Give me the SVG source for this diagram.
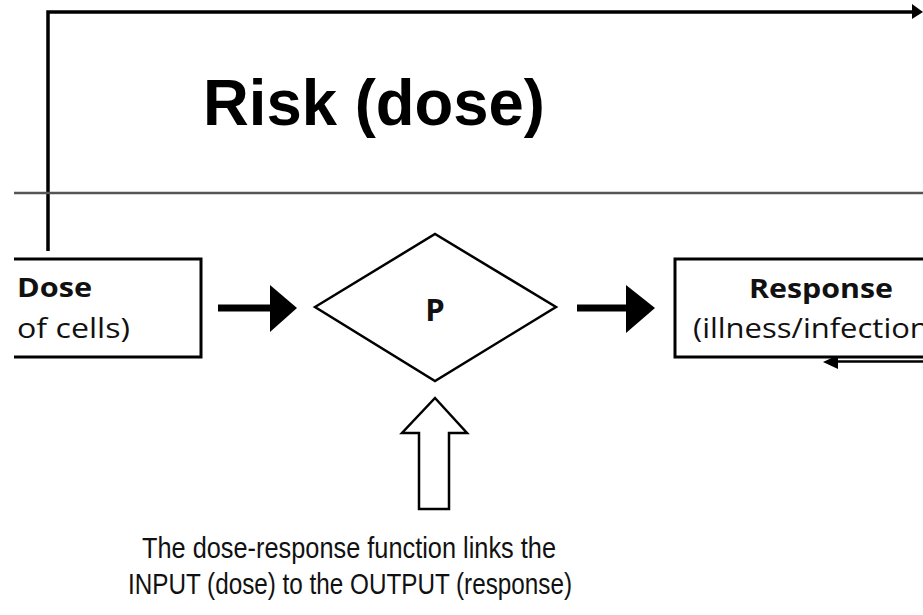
<svg xmlns="http://www.w3.org/2000/svg" width="923" height="615" viewBox="0 0 923 615">
<defs>
<style>
.ln{fill:none;stroke:#000;}
.box{fill:#fff;stroke:#000;stroke-width:3;}
.t{font-family:"Open Sans","Noto Sans","Liberation Sans",sans-serif;font-size:27px;fill:#111;}
.b{font-weight:bold;}
.cap{font-family:"Liberation Sans",Arial,sans-serif;font-size:29px;}
.pp{font-size:31px;}
</style>
</defs>
<rect width="923" height="615" fill="#fff"/>
<g id="connectors">
<path class="ln" d="M48,251 V12 H912" stroke-width="3.5"/>
<polygon points="912,4 923,12 912,19" fill="#000"/>
<line x1="14" y1="193" x2="923" y2="193" stroke="#555" stroke-width="2.5"/>
<line x1="218" y1="308" x2="272" y2="308" stroke="#000" stroke-width="7"/>
<polygon points="270,285 297,308 270,332" fill="#000"/>
<line x1="577" y1="308" x2="628" y2="308" stroke="#000" stroke-width="7"/>
<polygon points="626,285 655,308 626,333" fill="#000"/>
<line x1="835" y1="361.5" x2="923" y2="361.5" stroke="#000" stroke-width="2.5"/>
<polygon points="823,362 838,355 838,369" fill="#000"/>
<polygon points="435,398 467,433 449,433 449,509 419,509 419,433 402,433" fill="#fff" stroke="#000" stroke-width="2.5" stroke-linejoin="miter"/>
</g>
<g id="risk">
<text x="203" y="125" font-family="'Liberation Sans',Arial,sans-serif" font-weight="bold" font-size="64" textLength="342" lengthAdjust="spacingAndGlyphs">Risk (dose)</text>
</g>
<g id="dose">
<path class="box" d="M14,259 H201 V357 H14"/>
<text class="t b" x="17" y="297" textLength="75" lengthAdjust="spacingAndGlyphs">Dose</text>
<text class="t" x="17" y="338" textLength="113" lengthAdjust="spacingAndGlyphs">of cells)</text>
</g>
<g id="p">
<polygon points="315,307 435,234 556,307 435,381" fill="#fff" stroke="#000" stroke-width="2.5"/>
<text class="t b pp" x="435" y="321" text-anchor="middle">P</text>
</g>
<g id="response">
<path class="box" d="M926,259 H675 V357 H926"/>
<text class="t b" x="749" y="298" textLength="144" lengthAdjust="spacingAndGlyphs">Response</text>
<text class="t" x="693" y="338" textLength="245" lengthAdjust="spacingAndGlyphs">(illness/infection)</text>
</g>
<g id="caption">
<text class="t cap" x="142" y="558" textLength="414" lengthAdjust="spacingAndGlyphs">The dose-response function links the</text>
<text class="t cap" x="128" y="594" textLength="444" lengthAdjust="spacingAndGlyphs">INPUT (dose) to the OUTPUT (response)</text>
</g>
</svg>
